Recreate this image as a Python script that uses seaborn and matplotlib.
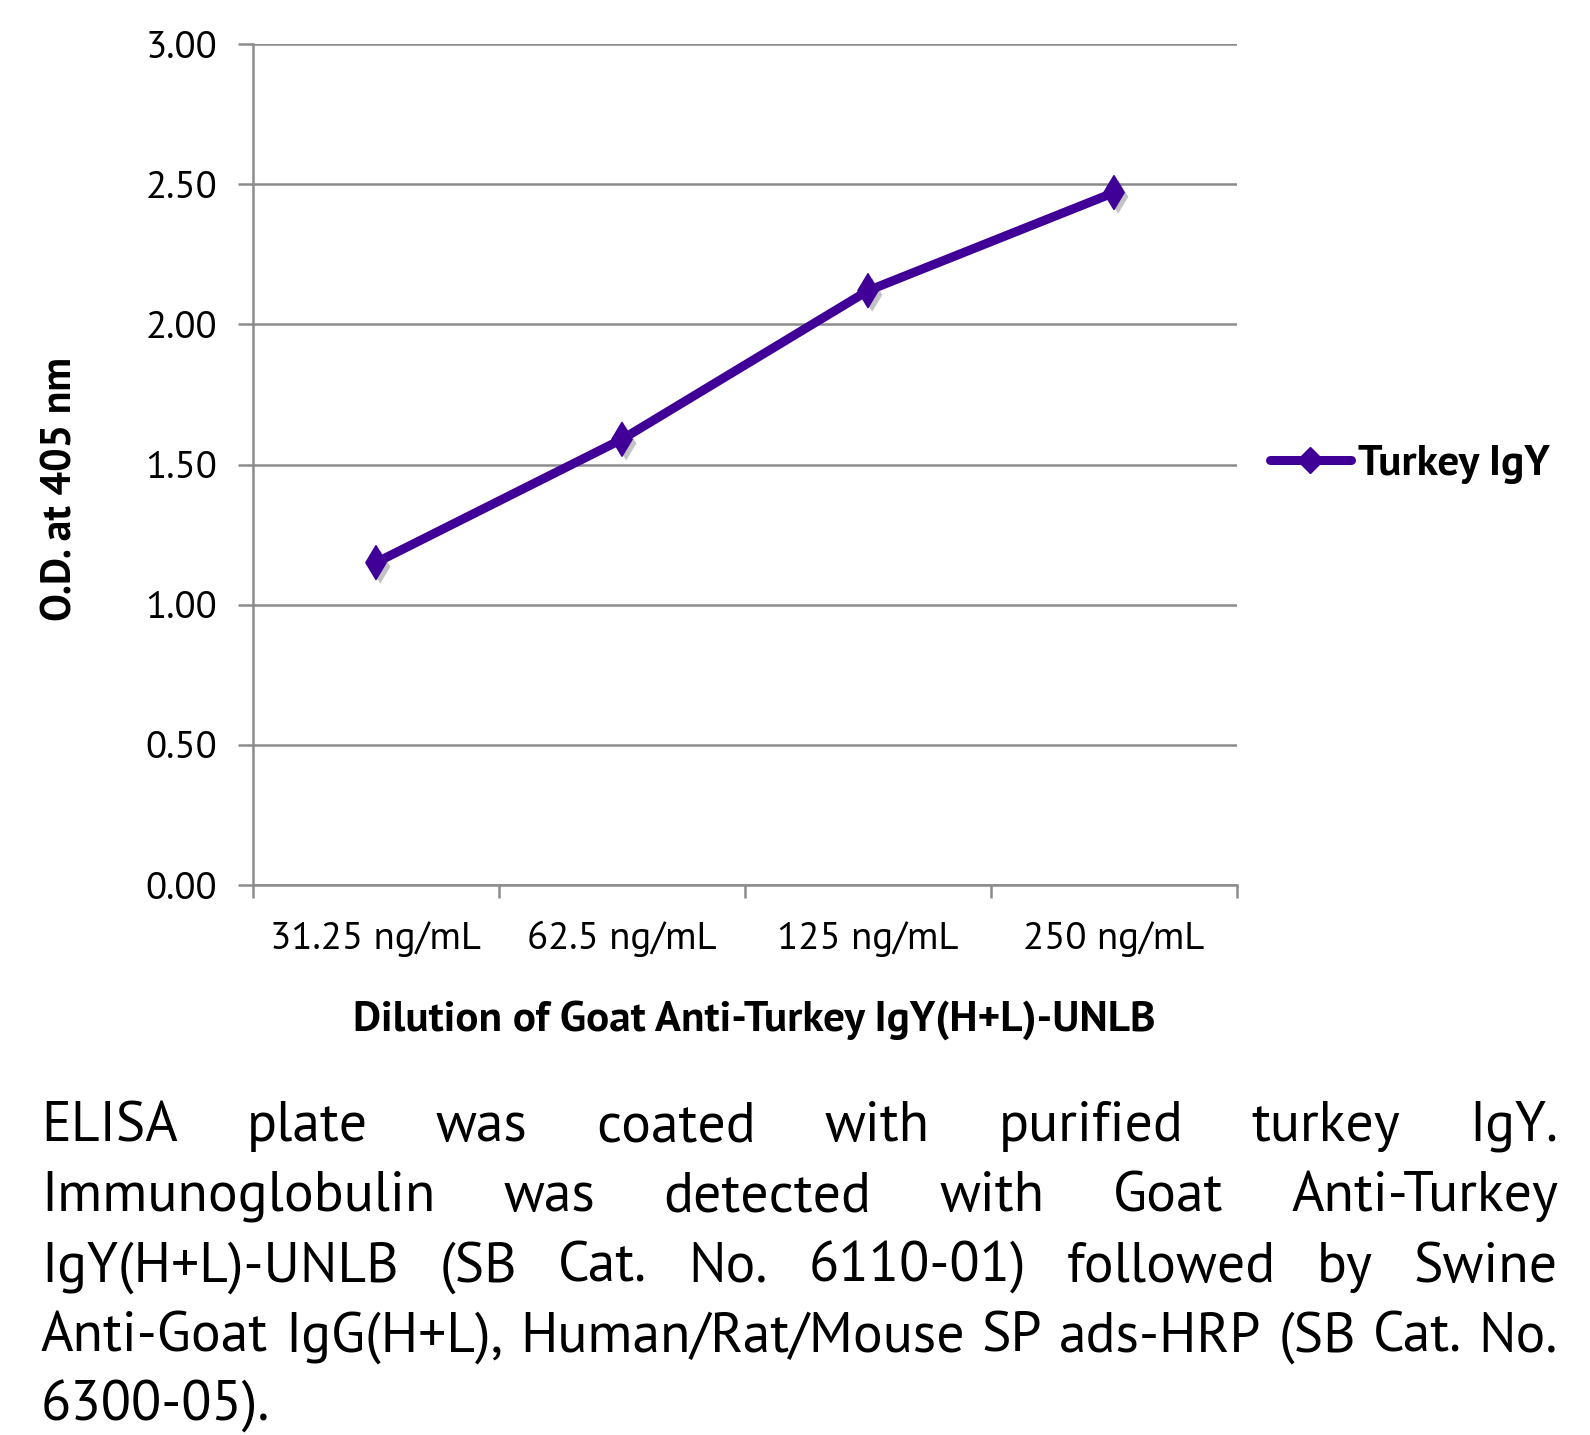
import numpy as np
import pandas as pd
import matplotlib
matplotlib.use("Agg")
import matplotlib.pyplot as plt
import seaborn as sns
from matplotlib import patheffects as pe
from matplotlib.lines import Line2D
from matplotlib import font_manager as fm

# ---------------- data ----------------
categories = ["31.25 ng/mL", "62.5 ng/mL", "125 ng/mL", "250 ng/mL"]
od_values = [1.15, 1.59, 2.12, 2.47]
series_name = "Turkey IgY"
y_ticks = [0.0, 0.5, 1.0, 1.5, 2.0, 2.5, 3.0]
x_label = "Dilution of Goat Anti-Turkey IgY(H+L)-UNLB"
y_label = "O.D. at 405 nm"
caption_lines = [
    "ELISA plate was coated with purified turkey IgY.",
    "Immunoglobulin was detected with Goat Anti-Turkey",
    "IgY(H+L)-UNLB (SB Cat. No. 6110-01) followed by Swine",
    "Anti-Goat IgG(H+L), Human/Rat/Mouse SP ads-HRP (SB Cat. No.",
    "6300-05).",
]

# ---------------- fonts ----------------
weights = {}
for f in fm.fontManager.ttflist:
    if str(f.style) != "normal":
        continue
    try:
        wv = int(f.weight)
    except (TypeError, ValueError):
        wv = {"normal": 400, "regular": 400, "bold": 700}.get(str(f.weight), 0)
    weights.setdefault(f.name, set()).add(wv)


def pick(cands):
    for c in cands:
        ws = weights.get(c, set())
        if 400 in ws and 700 in ws:
            return c
    return "Lato"


chart_font = pick(["Source Sans Pro", "Source Sans 3", "PT Sans", "Lato"])

sns.set_theme(style="white")
plt.rcParams["font.family"] = [chart_font, "DejaVu Sans"]
plt.rcParams["text.color"] = "black"

W, H = 1590, 1435
fig = plt.figure(figsize=(W / 100, H / 100), dpi=100)
fig.patch.set_facecolor("white")
renderer = fig.canvas.get_renderer()


def fit_size(s, weight, target, rotation=0, base=30.0):
    t = fig.text(0, 0, s, fontsize=base, fontweight=weight, rotation=rotation)
    bb = t.get_window_extent(renderer)
    t.remove()
    w = bb.height if rotation else bb.width
    return base * target / w


tick_fs = fit_size("31.25 ng/mL", "normal", 211)
xlab_fs = fit_size(x_label, "bold", 800)
ylab_fs = fit_size(y_label, "bold", 264, rotation=90)
leg_fs = fit_size(series_name, "bold", 192)
cap_fs = min(fit_size(caption_lines[3], "normal", 1490),
             fit_size(caption_lines[0], "normal", 1300))

ax_l, ax_r, ax_t, ax_b = 253, 1237, 44, 885
ax = fig.add_axes([ax_l / W, 1 - ax_b / H, (ax_r - ax_l) / W, (ax_b - ax_t) / H])

color = "#400098"
grid_c = "#8c8c8c"

df = pd.DataFrame({"dilution": categories, "od": od_values})
df["pos"] = np.arange(len(categories))

sns.lineplot(data=df, x="pos", y="od", color=color, lw=6.5, ax=ax,
             legend=False, zorder=3)
ax.lines[-1].set_solid_capstyle("round")
sns.scatterplot(data=df, x="pos", y="od", marker="d", s=300, color=color,
                edgecolor=color, linewidth=1, ax=ax, legend=False, zorder=4)
ax.collections[-1].set_path_effects([
    pe.SimplePatchShadow(offset=(3, -3), shadow_rgbFace="#555555", alpha=0.35),
    pe.Normal()])

ax.set_xlim(-0.5, len(categories) - 0.5)
ax.set_ylim(0, 3)
ax.set_yticks(y_ticks)
ax.set_yticklabels([f"{v:.2f}" for v in y_ticks])
ax.set_xticks(np.arange(len(categories)))
ax.set_xticklabels(categories)
ax.set_xticks(np.arange(-0.5, len(categories), 1), minor=True)

ax.yaxis.grid(True, color=grid_c, lw=1.8)
ax.set_axisbelow(True)
for s in ["top", "right"]:
    ax.spines[s].set_visible(False)
for s in ["left", "bottom"]:
    ax.spines[s].set_color(grid_c)
    ax.spines[s].set_linewidth(1.8)

ax.tick_params(axis="x", which="major", bottom=True, length=0, pad=26,
               labelsize=tick_fs, labelcolor="black")
ax.tick_params(axis="x", which="minor", bottom=True, length=9, width=1.8,
               color=grid_c, direction="out")
ax.tick_params(axis="y", which="major", left=True, length=11, width=1.8,
               color=grid_c, direction="out", pad=15, labelsize=tick_fs,
               labelcolor="black")

ax.set_xlabel(x_label, fontsize=xlab_fs, fontweight="bold", color="black")
ax.xaxis.set_label_coords((754 - ax_l) / (ax_r - ax_l), -(1000 - ax_b) / (ax_b - ax_t))
ax.set_ylabel(y_label, fontsize=ylab_fs, fontweight="bold", color="black")
ax.yaxis.set_label_coords(-(ax_l - 80) / (ax_r - ax_l), (ax_b - 489) / (ax_b - ax_t))

handle = Line2D([], [], color=color, lw=6.5, marker="D", ms=13,
                solid_capstyle="round")
leg = fig.legend([handle], [series_name], loc="center left",
                 bbox_to_anchor=(1270 / W, 1 - 464 / H), frameon=False,
                 prop={"size": leg_fs, "weight": "bold"},
                 handlelength=58 / leg_fs, handletextpad=5 / leg_fs,
                 borderpad=0, borderaxespad=0)
for t in leg.get_texts():
    t.set_color("black")

# ---------------- justified caption ----------------
left, right = 41, 1558
baselines = [1141, 1211, 1282, 1352, 1421]
for i, (line, yb) in enumerate(zip(caption_lines, baselines)):
    if i == len(caption_lines) - 1:
        fig.text(left / W, 1 - yb / H, line, fontsize=cap_fs,
                 va="baseline", ha="left", color="black")
        continue
    words = line.split(" ")
    texts = [fig.text(0, 1 - yb / H, w, fontsize=cap_fs,
                      va="baseline", ha="left", color="black") for w in words]
    widths = [t.get_window_extent(renderer).width for t in texts]
    gap = (right - left - sum(widths)) / (len(words) - 1)
    x = left
    for t, w in zip(texts, widths):
        t.set_x(x / W)
        x += w + gap

fig.savefig("out.png", dpi=100, facecolor="white")
